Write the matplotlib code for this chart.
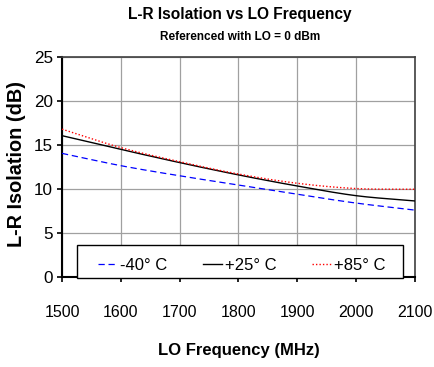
import matplotlib
matplotlib.use("Agg")
import matplotlib.pyplot as plt
from matplotlib.patches import Rectangle
import numpy as np

plt.rcParams['font.family'] = ['Liberation Sans', 'DejaVu Sans']

freq = [1500, 1600, 1700, 1800, 1900, 2000, 2100]
iso_m40 = [14.05, 12.65, 11.5, 10.45, 9.4, 8.4, 7.6]
iso_p25 = [16.06, 14.5, 13.0, 11.6, 10.34, 9.24, 8.64]
iso_p85 = [16.8, 14.7, 13.1, 11.7, 10.65, 10.05, 9.97]
labels = ['-40° C', '+25° C', '+85° C']
xticks = [1500, 1600, 1700, 1800, 1900, 2000, 2100]
yticks = [0, 5, 10, 15, 20, 25]

W, H = 435, 367
fig = plt.figure(figsize=(W/100, H/100), dpi=100)
L, R, T, B = 62, 415, 57, 277
ax = fig.add_axes([L/W, 1-B/H, (R-L)/W, (B-T)/H])

def smooth(x, y):
    x = np.asarray(x, float); y = np.asarray(y, float)
    xs = np.linspace(x[0], x[-1], 240)
    n = len(x)
    m = np.zeros(n)
    for i in range(n):
        if i == 0:
            m[i] = (y[1]-y[0])/(x[1]-x[0])
        elif i == n-1:
            m[i] = (y[-1]-y[-2])/(x[-1]-x[-2])
        else:
            m[i] = (y[i+1]-y[i-1])/(x[i+1]-x[i-1])
    out = []
    for xv in xs:
        k = min(np.searchsorted(x, xv, side='right')-1, n-2)
        h = x[k+1]-x[k]
        t = (xv-x[k])/h
        h00 = 2*t**3-3*t**2+1; h10 = t**3-2*t**2+t
        h01 = -2*t**3+3*t**2; h11 = t**3-t**2
        out.append(h00*y[k]+h10*h*m[k]+h01*y[k+1]+h11*h*m[k+1])
    return xs, np.array(out)

for yv, c, ls, lw, lab in [(iso_m40, '#0000ff', (0, (5, 3)), 0.9, labels[0]),
                           (iso_p25, '#000000', '-', 1.0, labels[1]),
                           (iso_p85, '#ff0000', (0, (1, 1.5)), 1.0, labels[2])]:
    xs, ys = smooth(freq, yv)
    ax.plot(xs, ys, color=c, linestyle=ls, linewidth=lw, label=lab, zorder=3)

ax.set_xlim(1500, 2100)
ax.set_ylim(0, 25)
ax.set_xticks(xticks)
ax.set_yticks(yticks)
ax.grid(True, color='#a0a0a0', linewidth=0.9)
ax.set_axisbelow(True)
for s in ['left', 'bottom']:
    ax.spines[s].set_color('black')
    ax.spines[s].set_linewidth(1.5)
for s in ['top', 'right']:
    ax.spines[s].set_color('#404040')
    ax.spines[s].set_linewidth(1.2)
ax.tick_params(axis='both', direction='out', length=3.5, width=1.2)
ax.tick_params(axis='x', labelsize=11.5, pad=17)
ax.tick_params(axis='y', labelsize=12.3, pad=3)

ax.set_xlabel('LO Frequency (MHz)', fontsize=12, fontweight='bold', labelpad=16)
ax.set_ylabel('L-R Isolation (dB)', fontsize=14.3, fontweight='bold', va='center')
ax.yaxis.set_label_coords((17-L)/(R-L), (B-164)/(B-T))

fig.text(240/W, 1-14/H, 'L-R Isolation vs LO Frequency', ha='center', va='center',
         fontsize=11.2, fontweight='bold')
fig.text(240/W, 1-37/H, 'Referenced with LO = 0 dBm', ha='center', va='center',
         fontsize=8.5, fontweight='bold')

# legend frame
fx0, fx1, fy0, fy1 = 77, 403, 245, 278
ax.add_patch(Rectangle(((fx0-L)/(R-L), (B-fy1)/(B-T)), (fx1-fx0)/(R-L), (fy1-fy0)/(B-T),
                       transform=ax.transAxes, facecolor='white', edgecolor='black',
                       linewidth=1.0, zorder=4, clip_on=False))
ex0, ex1, ey = 98, 386, 265
leg = ax.legend(loc='center', bbox_to_anchor=((ex0-L)/(R-L), (B-ey)/(B-T)-0.05, (ex1-ex0)/(R-L), 0.1),
                mode='expand', ncol=3, frameon=False, fontsize=12,
                handlelength=1.15, handletextpad=0.2, borderpad=0, borderaxespad=0)
leg.set_zorder(5)

fig.savefig('out.png', dpi=100)
